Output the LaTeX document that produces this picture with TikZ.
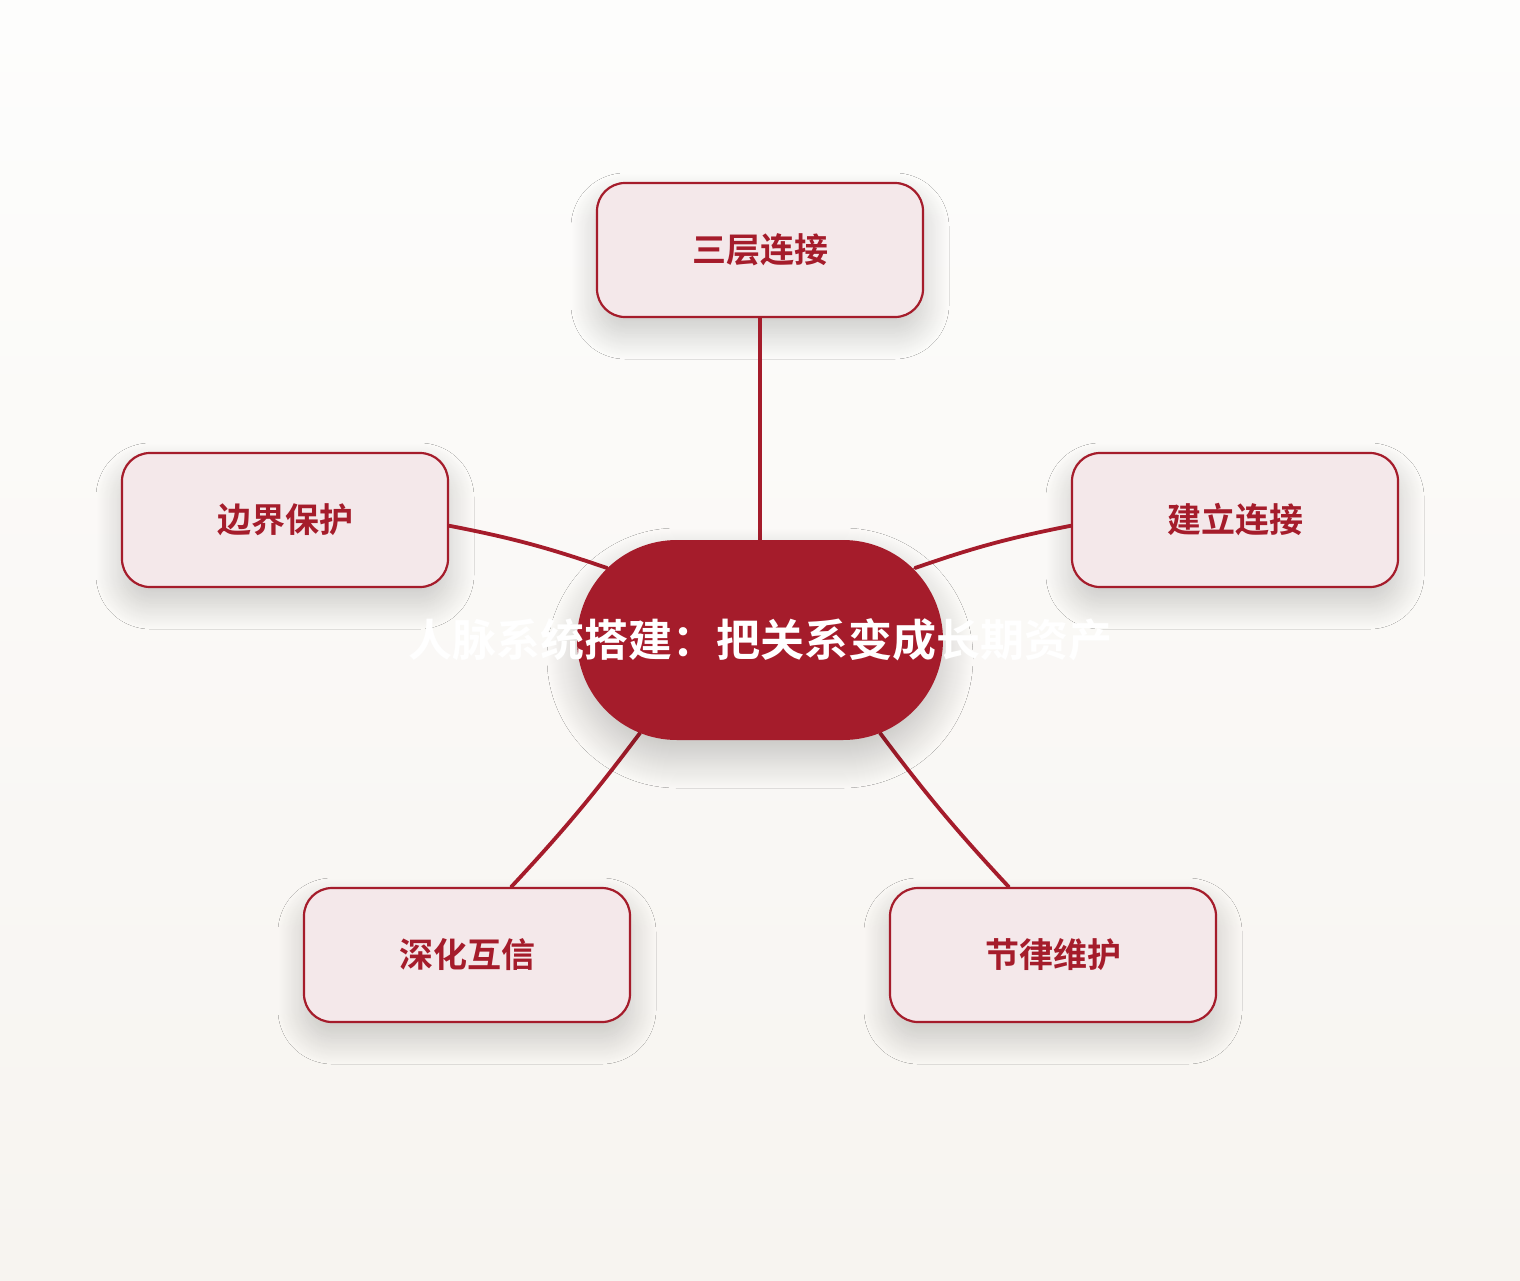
\documentclass[tikz,border=0pt]{standalone}
\usepackage{fontspec}
\setmainfont{Noto Sans CJK SC}[BoldFont={Noto Sans CJK SC Bold}]
\usepackage{tikz}
\usetikzlibrary{shapes.misc}
\usetikzlibrary{shadows.blur}
\definecolor{deepred}{HTML}{A51C2B}
\definecolor{palepink}{HTML}{F4E8EA}
\tikzstyle{topic}=[rectangle, rounded corners=14pt, draw=deepred, line width=1.1pt,
                   fill=palepink, minimum width=163pt, minimum height=67pt,
                   text=deepred, font=\fontsize{17}{20}\selectfont\bfseries,
                   blur shadow={shadow xshift=0pt, shadow yshift=-8pt,
                                shadow blur radius=13pt, shadow blur steps=30,
                                shadow opacity=20}]
\tikzstyle{hub}=[rounded rectangle, fill=deepred, minimum width=183pt,
                 minimum height=100pt, inner sep=0pt,
                 blur shadow={shadow xshift=0pt, shadow yshift=-9pt,
                              shadow blur radius=15pt, shadow blur steps=30,
                              shadow opacity=22}]
\tikzstyle{link}=[draw=deepred, line width=1.9pt, line cap=round]

\begin{document}
\begin{tikzpicture}[x=0.5pt, y=-0.5pt]
      \shade[top color={rgb,255:red,253;green,253;blue,252}, bottom color={rgb,255:red,247;green,244;blue,240}]
	(0,0) rectangle (1520,1280);
      \useasboundingbox (0,0) rectangle (1520,1280);
      \node[topic] (layers) at (760,250) {三层连接};
      \node[topic] (bounds) at (285,520) {边界保护};
      \node[topic] (build) at (1235,520) {建立连接};
      \node[topic] (trust) at (467,955) {深化互信};
      \node[topic] (rhythm) at (1053,955) {节律维护};
	\draw[link] (layers.south) -- (760,540);
	\draw[link] (bounds.-2) to[bend left=4] (607,568);
	\draw[link] (build.182) to[bend right=4] (915,568);
	\draw[link] (trust.57) to[bend right=3] (640,733);
	\draw[link] (rhythm.123) to[bend left=3] (880,733);
      \node[hub] (hub) at (760,640) {};
      \node[draw=none, text=white, font=\fontsize{22}{26}\selectfont\bfseries]
	(title) at (hub.center) {人脉系统搭建：把关系变成长期资产};
    \end{tikzpicture}
\end{document}
